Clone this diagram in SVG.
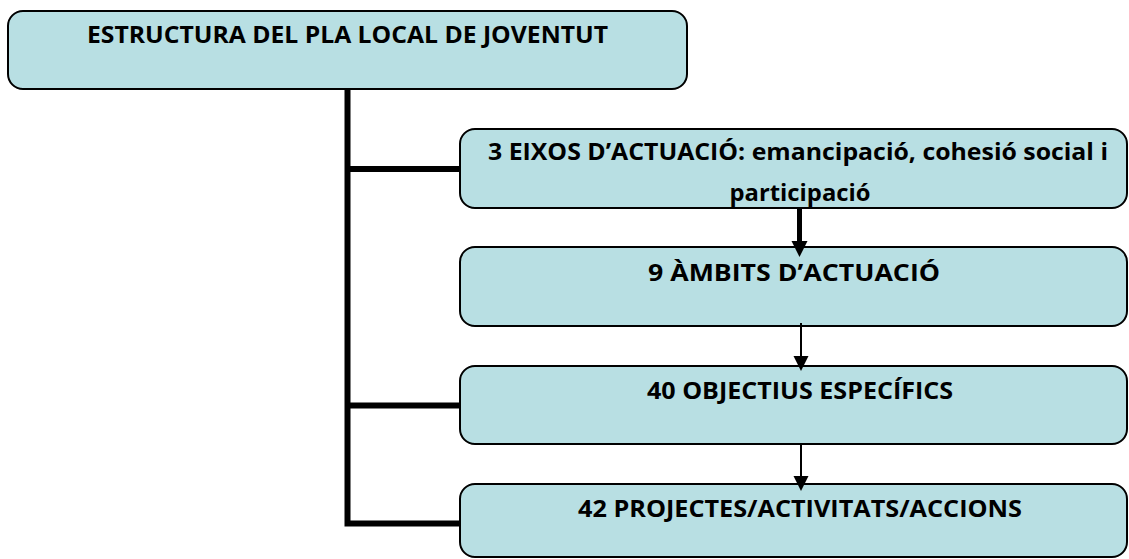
<svg xmlns="http://www.w3.org/2000/svg" width="1129" height="559" viewBox="0 0 1129 559">
<style>
.box{fill:#b8dfe3;stroke:#000;stroke-width:2}
.t{font-family:"Open Sans","Liberation Sans",sans-serif;font-weight:700;font-size:23px;fill:#000}
.trunk{fill:none;stroke:#000;stroke-width:6;stroke-linejoin:miter}
.thick{stroke:#000;stroke-width:5;fill:none}
.thin{stroke:#000;stroke-width:2;fill:none}
</style>
<defs>
<marker id="hThick" markerUnits="userSpaceOnUse" markerWidth="16" markerHeight="17" refX="0" refY="8" orient="auto">
<path d="M0,0 L16,8 L0,16 z" fill="#000"/>
</marker>
<marker id="hThin" markerUnits="userSpaceOnUse" markerWidth="16" markerHeight="16" refX="0" refY="7.5" orient="auto">
<path d="M0,0 L15,7.5 L0,15 z" fill="#000"/>
</marker>
</defs>
<g id="node-estructura">
<rect class="box" x="8" y="11" width="679" height="78" rx="15"/>
<text class="t" x="347.5" y="43" text-anchor="middle" font-size="24" textLength="521" lengthAdjust="spacingAndGlyphs">ESTRUCTURA DEL PLA LOCAL DE JOVENTUT</text>
</g>
<g id="node-eixos">
<rect class="box" x="460" y="129" width="667" height="79" rx="15"/>
<text class="t" x="798" y="160" text-anchor="middle" textLength="620" lengthAdjust="spacingAndGlyphs">3 EIXOS D’ACTUACIÓ: emancipació, cohesió social i</text>
<text class="t" x="800" y="201" text-anchor="middle" textLength="141" lengthAdjust="spacingAndGlyphs">participació</text>
</g>
<g id="node-ambits">
<rect class="box" x="460" y="247" width="667" height="79" rx="15"/>
<text class="t" x="794" y="281" text-anchor="middle" textLength="292" lengthAdjust="spacingAndGlyphs">9 ÀMBITS D’ACTUACIÓ</text>
</g>
<g id="node-objectius">
<rect class="box" x="460" y="366" width="667" height="78" rx="15"/>
<text class="t" x="800" y="399" text-anchor="middle" textLength="306" lengthAdjust="spacingAndGlyphs">40 OBJECTIUS ESPECÍFICS</text>
</g>
<g id="node-projectes">
<rect class="box" x="460" y="484" width="667" height="73" rx="15"/>
<text class="t" x="800" y="517" text-anchor="middle" textLength="444" lengthAdjust="spacingAndGlyphs">42 PROJECTES/ACTIVITATS/ACCIONS</text>
</g>
<g id="connectors">
<path class="trunk" d="M347.5 89 V523.5 H460"/>
<path class="trunk" d="M347.5 169 H460"/>
<path class="trunk" d="M347.5 405.5 H460"/>
<line class="thick" x1="799.5" y1="208" x2="799.5" y2="241" marker-end="url(#hThick)"/>
<line class="thin" x1="801" y1="323" x2="801" y2="356" marker-end="url(#hThin)"/>
<line class="thin" x1="801" y1="443" x2="801" y2="476" marker-end="url(#hThin)"/>
</g>
</svg>
